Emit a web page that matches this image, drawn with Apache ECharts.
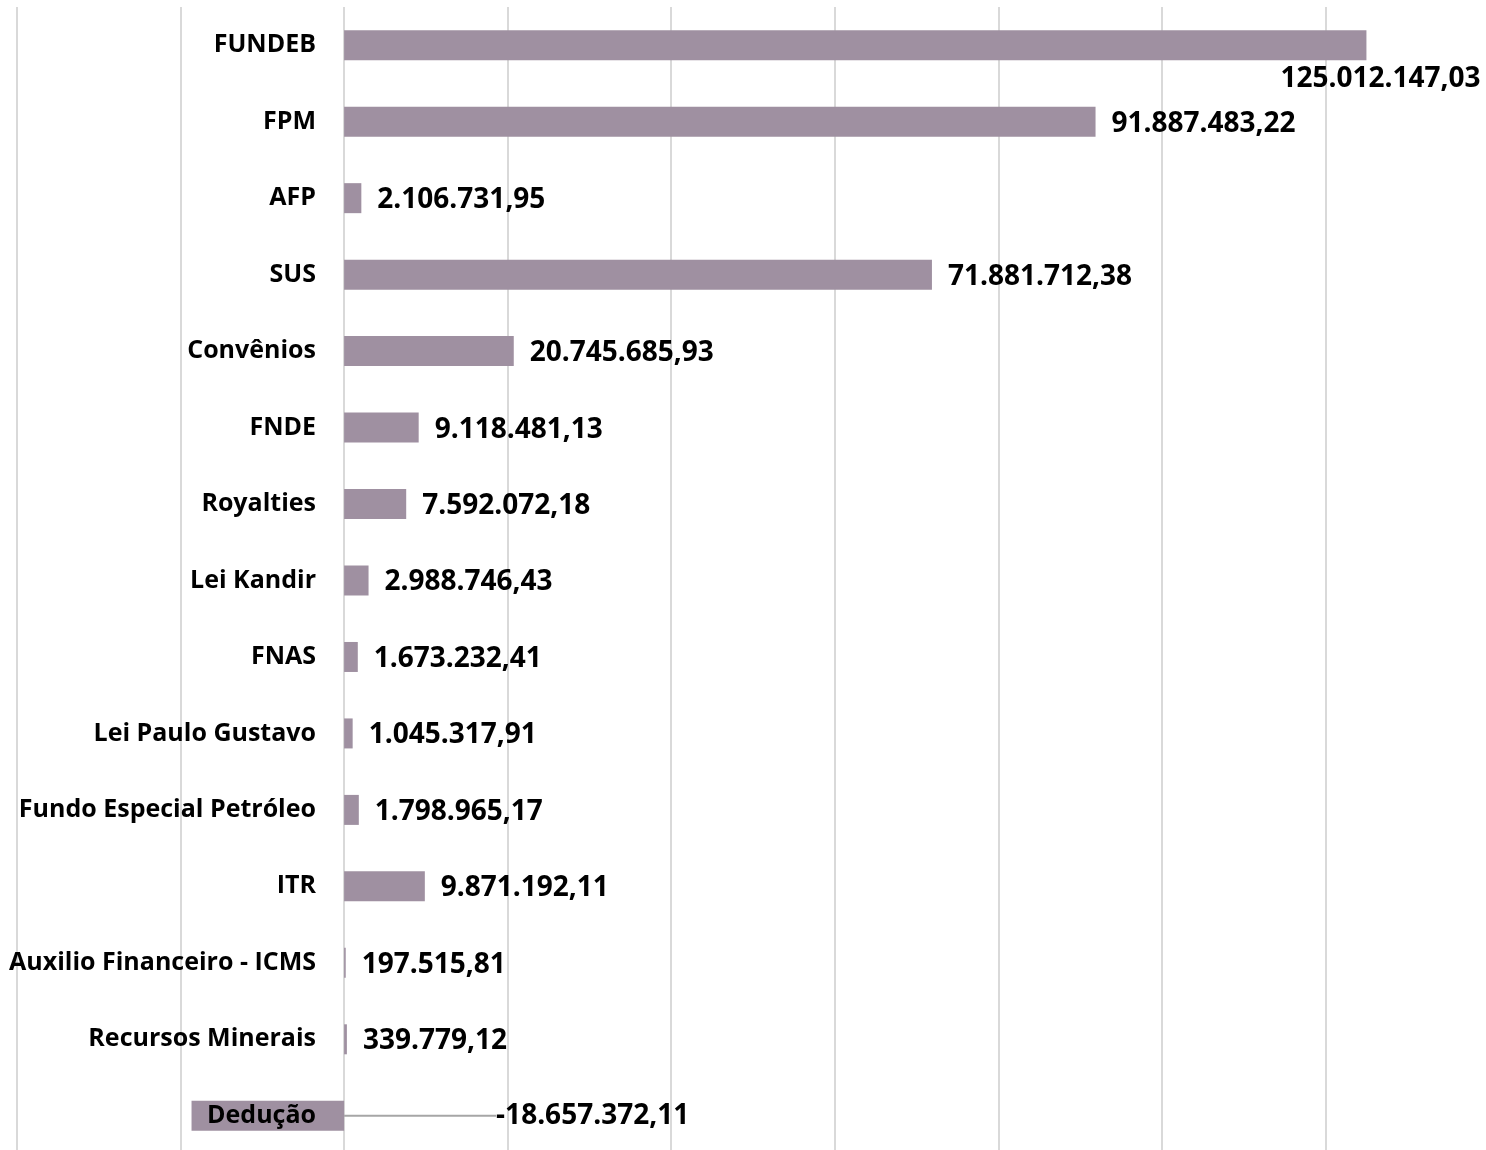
<!DOCTYPE html>
<html>
<head>
<meta charset="utf-8">
<script src="https://cdn.jsdelivr.net/npm/echarts@6/dist/echarts.min.js"></script>
<style>html,body{margin:0;padding:0;background:#fff}#c{width:1486px;height:1150px}</style>
</head>
<body>
<div id="c"></div>
<script>
const categories = ['FUNDEB','FPM','AFP','SUS','Convênios','FNDE','Royalties','Lei Kandir','FNAS','Lei Paulo Gustavo','Fundo Especial Petróleo','ITR','Auxilio Financeiro - ICMS','Recursos Minerais','Dedução'];
const values = [125012147.03, 91887483.22, 2106731.95, 71881712.38, 20745685.93, 9118481.13, 7592072.18, 2988746.43, 1673232.41, 1045317.91, 1798965.17, 9871192.11, 197515.81, 339779.12, -18657372.11];
const axisMin = -40000000, axisMax = 140000000, axisStep = 20000000;

function fmtBR(v){
  const neg = v < 0; v = Math.abs(v);
  const s = v.toFixed(2).split('.');
  const intPart = s[0].replace(/\B(?=(\d{3})+(?!\d))/g, '.');
  return (neg ? '-' : '') + intPart + ',' + s[1];
}

const FONT = 'Open Sans';
const data = values.map((v, i) => {
  const item = { value: v };
  if (v < 0) {
    item.label = { position: 'right' };
    item.labelLine = { show: true, lineStyle: { color: '#A6A6A6', width: 2 } };
  }
  return item;
});

const chart = echarts.init(document.getElementById('c'));
chart.setOption({
  animation: false,
  backgroundColor: '#fff',
  grid: { left: 17, top: 7, width: 1472, height: 1147, containLabel: false, outerBoundsMode: 'none' },
  xAxis: {
    type: 'value', min: axisMin, max: axisMax, interval: axisStep,
    axisLabel: { show: false }, axisLine: { show: false }, axisTick: { show: false },
    splitLine: { show: true, lineStyle: { color: '#D9D9D9', width: 2 } }
  },
  yAxis: {
    type: 'category', data: categories, inverse: true, z: 5,
    axisLine: { show: false, onZero: false }, axisTick: { show: false },
    axisLabel: { fontFamily: FONT, fontWeight: 'bold', fontSize: 25, color: '#000', margin: -299 }
  },
  series: [{
    type: 'bar', data: data, barWidth: 30, z: 2,
    itemStyle: { color: '#9F90A1' },
    label: {
      show: true, position: 'right', distance: 16,
      fontFamily: FONT, fontWeight: 'bold', fontSize: 28, color: '#000',
      formatter: p => fmtBR(p.value)
    },
    labelLayout: function (params) {
      if (params.dataIndex === 0) return { dx: -102, dy: 34 };
      if (values[params.dataIndex] < 0) return { dx: 136 };
      return { dy: 2 };
    }
  }]
});
</script>
</body>
</html>
